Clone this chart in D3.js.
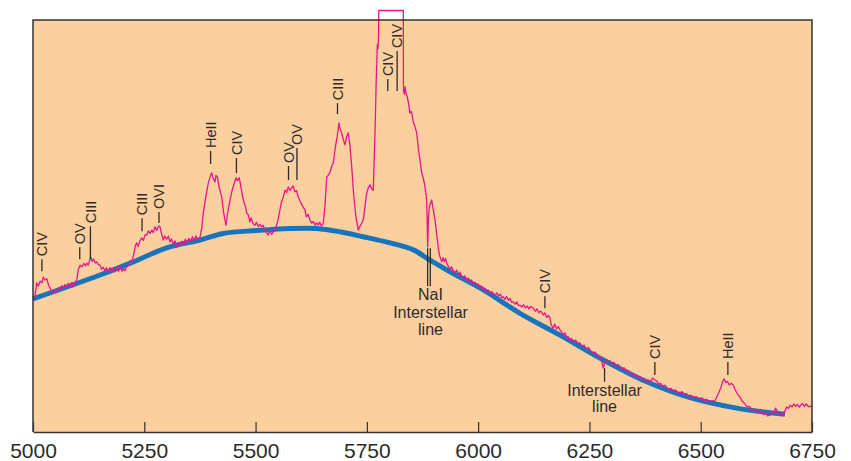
<!DOCTYPE html>
<html>
<head>
<meta charset="utf-8">
<script src="https://cdn.jsdelivr.net/npm/d3@7"></script>
<style>
  body { margin: 0; background: #fff; }
  svg text { font-family: "Liberation Sans", Arial, sans-serif; fill: #2b2b2b; }
</style>
</head>
<body>
<svg id="chart" width="851" height="461"></svg>
<script>
// observed spectrum: [wavelength (Angstrom), relative flux]
const spectrum = [
  [5003.8, 32.5], [5008.3, 36.2], [5012, 35.4], [5016, 36.6], [5020, 36.2], [5023.1, 37.6], [5027, 36.9],
  [5031, 37.2], [5035, 35.6], [5038.2, 35.0], [5042, 34.0], [5045.6, 33.7], [5049, 34.5], [5053, 34.1],
  [5057, 35.0], [5060.7, 34.5], [5064, 35.5], [5068, 34.9], [5072, 35.8], [5075.7, 35.2], [5079, 36.1],
  [5083, 35.4], [5087, 36.3], [5090.5, 35.2], [5094, 36.0], [5098.2, 36.9], [5102, 39.5], [5105.6, 40.5],
  [5110, 40.1], [5114, 40.9], [5118, 40.3], [5121, 41.0], [5124.2, 40.5], [5127, 41.5], [5129.6, 42.5],
  [5133, 41.4], [5136, 42.0], [5140, 41.0], [5143.1, 41.3], [5147, 40.6], [5150.5, 40.5], [5154, 39.5],
  [5158, 40.0], [5161.7, 39.1], [5165, 39.9], [5169, 38.8], [5173, 39.9], [5177, 39.0], [5180.4, 39.8],
  [5184, 38.9], [5188, 40.1], [5192, 39.0], [5196, 40.2], [5200, 39.0], [5203, 39.6], [5207, 39.2],
  [5210.5, 40.2], [5215, 40.6], [5218, 41.6], [5221.7, 41.3], [5226, 43.0], [5230, 45.2], [5233.0, 45.9],
  [5236, 45.0], [5240, 46.4], [5244.2, 47.1], [5248, 46.5], [5252, 47.9], [5255.4, 47.8], [5259, 48.8],
  [5263, 48.2], [5267, 49.0], [5270, 48.4], [5274.1, 49.8], [5278, 48.9], [5282, 50.0], [5285.3, 49.8],
  [5289, 48.0], [5292.7, 46.6], [5296, 47.6], [5300, 46.8], [5304, 47.5], [5307.8, 46.1], [5311, 46.9],
  [5315, 45.6], [5319, 46.4], [5322.8, 44.9], [5326, 46.0], [5330, 45.3], [5334.1, 46.3], [5338, 45.4],
  [5342, 46.8], [5346, 45.9], [5350, 47.0], [5354, 46.3], [5358, 47.4], [5362, 46.5], [5366, 47.6],
  [5370, 46.7], [5375.2, 47.3], [5379, 49.5], [5382.6, 53.2], [5388, 57.0], [5393.8, 60.4], [5398, 62.0],
  [5401.5, 62.9], [5405, 61.5], [5408.9, 60.7], [5411, 62.3], [5414.0, 61.9], [5418, 59.5], [5423.9, 57.0],
  [5428, 53.5], [5431, 51.5], [5433.6, 50.2], [5437, 53.0], [5442.6, 56.3], [5447, 58.5], [5451, 60.0],
  [5456.0, 61.7], [5459, 61.0], [5463.4, 61.7], [5467, 59.5], [5472.4, 56.3], [5477, 54.8], [5480, 53.2],
  [5483.7, 52.7], [5487, 51.0], [5490, 52.0], [5494, 50.6], [5498.7, 50.2], [5502, 50.9], [5506, 49.9],
  [5510, 50.4], [5513.8, 49.8], [5517, 50.2], [5520, 49.3], [5524, 48.4], [5528.6, 47.8], [5532, 48.9],
  [5536, 48.0], [5539.8, 48.5], [5544, 49.4], [5548.8, 50.7], [5554, 53.5], [5558, 55.8], [5562.3, 57.0],
  [5566, 58.7], [5570, 58.2], [5573.5, 59.5], [5577, 58.6], [5581, 59.3], [5584.8, 59.7], [5588, 58.3],
  [5592, 58.6], [5596.0, 57.0], [5600, 56.0], [5604, 55.2], [5607, 54.6], [5611.0, 53.9], [5614, 52.2],
  [5618, 52.8], [5622, 51.5], [5626.1, 50.7], [5630, 51.1], [5634, 50.2], [5637, 50.8], [5640.9, 50.2],
  [5644, 50.9], [5648, 50.0], [5652.2, 50.7], [5656, 55.0], [5659.8, 61.9], [5663, 62.3], [5667, 63.0],
  [5671, 64.5], [5674.6, 65.3], [5679, 69.0], [5683, 71.5], [5687.4, 75.0], [5690, 73.5], [5693.5, 72.6],
  [5697, 71.0], [5700.9, 69.7], [5704, 71.5], [5708.3, 72.6], [5712, 69.5], [5716.0, 64.3], [5720, 58.0],
  [5725, 52.5], [5730.8, 49.0], [5734, 49.8], [5738, 50.6], [5742.0, 51.5], [5746, 55.0], [5749.7, 58.0],
  [5753, 59.2], [5757.1, 60.0], [5761, 59.0], [5764.5, 58.7], [5768.3, 72.6], [5771, 85.0], [5773.5, 94.0],
  [5775, 93.0], [5776.4, 96.5], [5776.6, 102.3], [5831.9, 102.3], [5832.2, 83.0], [5834, 82.0], [5836, 83.8],
  [5838, 82.2], [5840.9, 81.3], [5844, 79.5], [5846.9, 77.4], [5850, 77.8], [5855, 75.0], [5858, 74.2],
  [5862.0, 72.6], [5866, 68.5], [5870, 65.5], [5873.2, 62.9], [5877, 61.5], [5880.6, 59.5], [5884.4, 56.3],
  [5886.7, 44.9], [5888.5, 52.0], [5890.3, 54.6], [5893, 55.5], [5895.7, 56.3], [5899, 54.0], [5903.1, 51.5],
  [5908, 47.0], [5912, 43.5], [5914.3, 42.5], [5918.2, 41.3], [5921, 42.3], [5924, 41.4], [5927, 42.1],
  [5929.4, 41.0], [5933, 40.2], [5936.8, 39.3], [5940, 40.1], [5944, 39.2], [5948.0, 38.6], [5952, 39.3],
  [5956, 38.1], [5960, 38.8], [5963, 37.5], [5966.7, 37.4], [5970, 37.9], [5974, 36.8], [5978, 37.4],
  [5981.7, 36.4], [5985, 36.9], [5989, 35.9], [5993, 36.3], [5996.8, 35.7], [6000, 35.9], [6004, 35.0],
  [6008, 35.4], [6011.6, 34.5], [6015, 34.9], [6019, 34.0], [6023, 34.4], [6027, 33.6], [6030, 34.1],
  [6034.1, 33.7], [6038, 33.1], [6042, 33.8], [6046, 33.0], [6050, 33.5], [6053, 32.6], [6056.5, 32.8],
  [6060, 32.2], [6064, 32.9], [6068, 31.9], [6072, 32.4], [6075, 31.5], [6079.0, 31.6], [6083, 31.0],
  [6087, 31.6], [6090, 30.7], [6094.0, 30.8], [6098, 30.3], [6102, 30.9], [6106, 30.1], [6110, 30.6],
  [6114, 29.9], [6118, 30.5], [6123.9, 30.1], [6128, 29.3], [6132, 29.9], [6136, 28.9], [6140, 29.4],
  [6146.4, 28.4], [6150, 28.9], [6154, 27.8], [6158, 28.3], [6161.4, 27.7], [6164, 26.0], [6168.8, 25.2],
  [6172, 26.2], [6176, 25.0], [6180, 25.6], [6183.9, 24.8], [6187, 24.4], [6191, 23.6], [6195, 24.1],
  [6198.9, 22.8], [6202, 23.2], [6206, 22.3], [6210, 22.7], [6214, 22.0], [6219, 22.3], [6224, 21.5],
  [6228.8, 21.6], [6233, 20.8], [6238, 21.1], [6243, 20.2], [6248, 20.5], [6253, 19.6], [6258.7, 19.2],
  [6263, 19.4], [6268, 18.5], [6273.8, 18.2], [6277, 17.4], [6281.2, 15.5], [6284, 16.8], [6288.8, 17.5],
  [6292, 17.0], [6296, 17.3], [6300, 16.6], [6305, 16.9], [6310, 16.0], [6314, 16.4], [6318.7, 15.8],
  [6323, 15.3], [6328, 15.6], [6333, 14.7], [6338, 14.9], [6343, 14.1], [6348.6, 13.8], [6353, 14.0],
  [6358, 13.2], [6363, 13.4], [6368, 12.8], [6373, 12.9], [6378.7, 12.1], [6383, 12.6], [6388, 12.3],
  [6392, 13.1], [6397.3, 12.6], [6402, 12.3], [6406, 11.5], [6410, 11.8], [6415, 11.2], [6420, 11.3],
  [6423.6, 10.9], [6428, 10.3], [6433, 10.6], [6438, 10.0], [6443, 10.2], [6448, 9.6], [6453.5, 9.5],
  [6458, 9.8], [6463, 9.1], [6468, 9.3], [6473, 8.7], [6478, 8.9], [6484, 8.4], [6491.0, 8.5],
  [6496, 8.0], [6502, 8.3], [6508, 7.6], [6514, 7.9], [6520.9, 7.3], [6526, 7.6], [6531, 7.4],
  [6536.0, 8.5], [6541, 9.6], [6546, 11.0], [6549, 12.2], [6552.3, 12.9], [6556, 12.0], [6560, 12.3],
  [6564, 11.4], [6568, 11.8], [6573.3, 11.4], [6577, 10.3], [6581, 9.5], [6584, 9.0], [6588.3, 8.5],
  [6593, 7.5], [6598, 7.0], [6603, 6.3], [6610.8, 6.1], [6615, 5.2], [6619, 5.6], [6624, 4.8],
  [6628, 5.3], [6633.3, 4.6], [6638, 5.0], [6642, 4.2], [6646, 4.8], [6650, 3.9], [6655.7, 4.1],
  [6660, 5.0], [6664, 4.4], [6668, 5.8], [6670.8, 5.3], [6674, 4.6], [6678, 4.0], [6682, 4.6],
  [6685.5, 4.1], [6689, 5.1], [6693.2, 6.1], [6697, 5.7], [6701, 6.5], [6705, 6.1], [6709, 6.8],
  [6713, 6.2], [6717, 6.7], [6721, 6.0], [6725, 6.6], [6729, 6.9], [6733, 6.2], [6737, 6.8],
  [6741, 6.3], [6745.5, 6.1], [6749, 6.5]
];

// smooth continuum fit
const continuumWave = [5000, 5150.5, 5225.3, 5300.4, 5375.2, 5427.5, 5502.5, 5577.3, 5637.3, 5689.7,
  5742.0, 5802.0, 5854.3, 5891.9, 5936.8, 6011.6, 6094.0, 6183.9, 6281.2, 6378.7, 6468.5, 6580.8, 6689.4];
const continuumFlux = [32.3, 38.1, 41.3, 44.7, 46.6, 48.2, 48.9, 49.4, 49.4, 48.6,
  47.4, 45.9, 44.2, 41.7, 38.9, 34.5, 28.8, 23.5, 17.5, 12.2, 8.6, 5.8, 4.3];

// emission line labels: name, wavelength, flux where the marker starts
const lineNames = ["CIV", "OV", "CIII", "CIII", "OVI", "HeII", "CIV", "OV", "OV", "CIII", "CIV", "CIV", "CIV", "CIV", "HeII"];
const lineWave  = [5020, 5105, 5129, 5245, 5283, 5399, 5457, 5574, 5593, 5684, 5797, 5818, 6150, 6397, 6561];
const lineFlux  = [38.8, 41.7, 41.7, 48.5, 50.5, 64.8, 62.6, 60.9, 60.9, 76.9, 82.5, 82.5, 29.8, 13.6, 13.6];
const lineLen   = [12, 12, 33, 13, 11, 13, 15, 14, 32, 11, 12, 40, 12, 13, 13];

const xTicks = [5000, 5250, 5500, 5750, 6000, 6250, 6500, 6750];

const svg = d3.select("#chart");
const x = d3.scaleLinear().domain([5000, 6750]).range([33, 812]);
const y = d3.scaleLinear().domain([0, 100]).range([432, 20]);

// background panel
svg.append("rect")
  .attr("x", x(5000)).attr("y", y(100))
  .attr("width", x(6750) - x(5000)).attr("height", y(0) - y(100))
  .attr("fill", "#fccf9f");

// continuum
const contLine = d3.line()
  .x((d, i) => x(continuumWave[i]))
  .y(d => y(d))
  .curve(d3.curveCatmullRom);
svg.append("path")
  .attr("d", contLine(continuumFlux))
  .attr("fill", "none")
  .attr("stroke", "#1a74bb")
  .attr("stroke-width", 5);

// spectrum
const specLine = d3.line()
  .x(d => x(d[0]))
  .y(d => y(d[1]));
svg.append("path")
  .attr("d", specLine(spectrum))
  .attr("fill", "none")
  .attr("stroke", "#e8168c")
  .attr("stroke-width", 1.3)
  .attr("stroke-linejoin", "round");

// frame (top, left, right)
svg.append("path")
  .attr("d", `M${x(5000)},${y(0)}V${y(100)}H${x(6750)}V${y(0)}`)
  .attr("fill", "none")
  .attr("stroke", "#333")
  .attr("stroke-width", 1.5);

// x axis with inward ticks
const axis = svg.append("g")
  .attr("transform", `translate(0,${y(0)})`)
  .call(d3.axisBottom(x).tickValues(xTicks).tickSizeInner(-10).tickSizeOuter(0).tickFormat(d3.format("d")));
axis.select(".domain").attr("stroke", "#333").attr("stroke-width", 1.5);
axis.selectAll(".tick line").attr("stroke", "#333").attr("stroke-width", 1.2);
axis.selectAll(".tick text")
  .attr("y", 11).attr("dy", "0.71em")
  .style("font-size", "21px").style("fill", "#2b2b2b");

// line markers + rotated labels
const labels = svg.append("g");
lineNames.forEach((name, i) => {
  const lx = x(lineWave[i]);
  const y0 = y(lineFlux[i]) - 1;
  const y1 = y0 - lineLen[i];
  labels.append("line")
    .attr("x1", lx).attr("x2", lx).attr("y1", y0).attr("y2", y1)
    .attr("stroke", "#2b2b2b").attr("stroke-width", 1.3);
  labels.append("text")
    .attr("transform", `translate(${lx},${y1 - 3}) rotate(-90)`)
    .attr("dy", "0.36em")
    .style("font-size", "14.5px")
    .text(name);
});

// NaI interstellar doublet
const naWave = [5886.5, 5892.5];
naWave.forEach(w => {
  labels.append("line")
    .attr("x1", x(w)).attr("x2", x(w)).attr("y1", y(44.6)).attr("y2", y(35.4))
    .attr("stroke", "#2b2b2b").attr("stroke-width", 1.3);
});
const naText = ["NaI", "Interstellar", "line"];
naText.forEach((t, i) => {
  labels.append("text")
    .attr("x", x(5893)).attr("y", [300, 318, 335][i])
    .attr("text-anchor", "middle")
    .style("font-size", "16px")
    .text(t);
});

// interstellar absorption near 6284
labels.append("line")
  .attr("x1", x(6284)).attr("x2", x(6284)).attr("y1", y(15.5)).attr("y2", y(12.2))
  .attr("stroke", "#2b2b2b").attr("stroke-width", 1.3);
["Interstellar", "line"].forEach((t, i) => {
  labels.append("text")
    .attr("x", x(6284)).attr("y", [396, 412][i])
    .attr("text-anchor", "middle")
    .style("font-size", "16px")
    .text(t);
});
</script>
</body>
</html>
